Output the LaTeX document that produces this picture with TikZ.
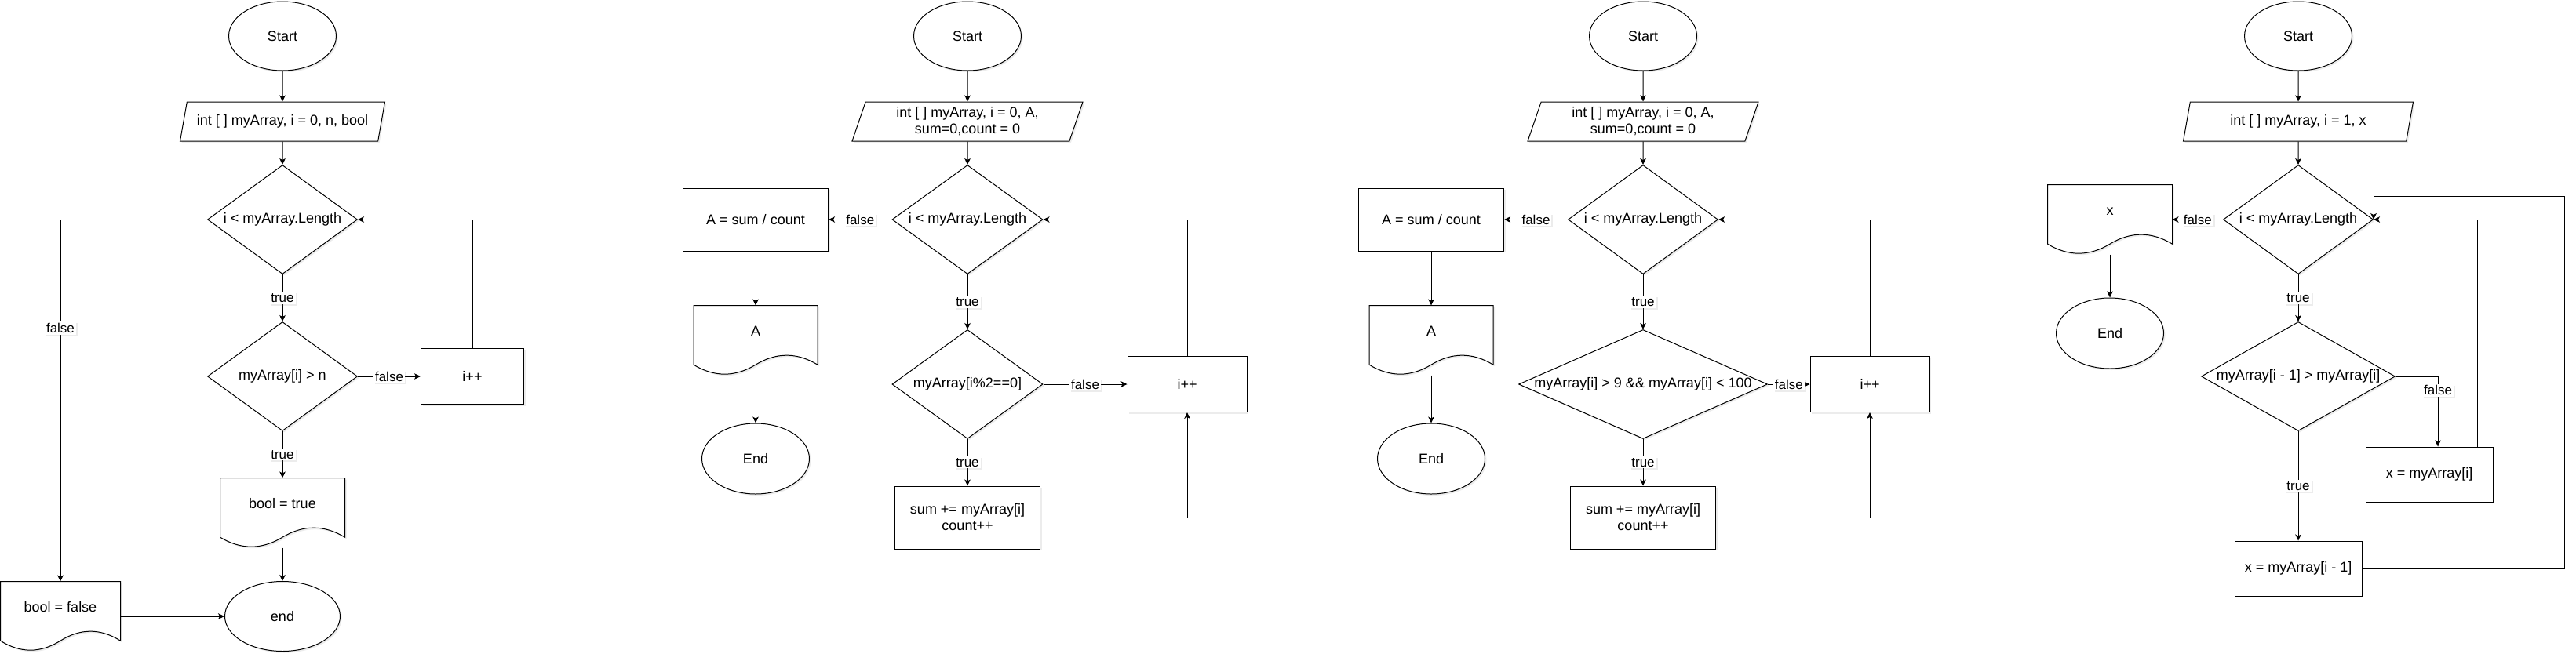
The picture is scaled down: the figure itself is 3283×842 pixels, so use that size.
\documentclass[tikz,border=0pt]{standalone}
\usepackage{fontspec}
\setmainfont{Liberation Sans}
\usetikzlibrary{shapes.geometric,arrows.meta,calc,shadows,backgrounds}

\newcommand{\docoutline}[1]{%
  \draw[docline] let \p1=(#1.north west), \p2=(#1.south east),
      \n1={\x2-\x1}, \n2={\y1-\y2} in
    (\x1,\y1) -- (\x2,\y1) -- (\x2,\y1-0.85*\n2)
    .. controls (\x1+0.8333*\n1,\y1-0.67*\n2) and (\x1+0.6667*\n1,\y1-0.67*\n2) .. (\x1+0.5*\n1,\y1-0.85*\n2)
    .. controls (\x1+0.3333*\n1,\y1-1.03*\n2) and (\x1+0.1667*\n1,\y1-1.03*\n2) .. (\x1,\y1-0.85*\n2)
    -- cycle;}

\begin{document}
\begin{tikzpicture}[x=0.5pt, y=-0.5pt, line width=0.5pt,
  font=\fontsize{9}{10.5}\selectfont,
  softshadow/.style={drop shadow={shadow xshift=1pt, shadow yshift=-1pt, opacity=0.15, fill=black!50}},
  terminal/.style={ellipse, draw, fill=white, softshadow, minimum width=68.5pt, minimum height=44pt},
  inputbox/.style={trapezium, trapezium left angle=67, trapezium right angle=113,
    trapezium stretches body=true, draw, fill=white, softshadow, inner ysep=1pt, align=center,
    minimum width=#1, minimum height=25pt},
  decision/.style={diamond, draw, fill=white, softshadow, inner sep=0pt, minimum width=#1, minimum height=69.5pt},
  process/.style={rectangle, draw, fill=white, softshadow, align=center, minimum width=#1, minimum height=40pt},
  docbox/.style={rectangle, minimum width=#1, minimum height=44pt, text height=6.5pt, text depth=12.5pt},
  docline/.style={draw=black, line width=0.5pt, fill=white, softshadow},
  flowarrow/.style={-{Stealth[length=4pt, width=3.8pt, inset=1pt]}},
  lbl/.style={fill=white, softshadow, inner sep=1pt, font=\fontsize{8.5}{10}\selectfont}]
  \useasboundingbox (0,0) rectangle (3283,842);
  \begin{scope}[on background layer]
    \fill[white] (0,0) rectangle (3283,842);
  \end{scope}

  \node[terminal] (s1) at (360,46) {Start};
  \node[inputbox=130.5pt] (in1) at (360,155) {int [ ] myArray, i = 0, n, bool};
  \node[decision=95.5pt, label=center:{i < myArray.Length}] (d1a) at (360,280) {};
  \node[decision=95.5pt, label=center:{myArray[i] > n}] (d1b) at (360,480) {};
  \node[process=65.5pt, minimum height=35.5pt] (inc1) at (602,480) {i++};
  \node[docbox=79pt] (bt1) at (360,654) {bool = true};
  \node[terminal, minimum width=73.5pt, minimum height=44.5pt] (end1) at (360,786) {end};
  \node[docbox=76pt] (bf1) at (77,786) {bool = false};

  \draw[flowarrow] (s1) -- (in1);
  \draw[flowarrow] (in1) -- (d1a);
  \draw[flowarrow] (d1a) -- node[lbl] {true} (d1b);
  \draw[flowarrow] (d1b) -- node[lbl] {false} (inc1);
  \draw[flowarrow] (inc1.north) |- (d1a.east);
  \draw[flowarrow] (d1a.west) -| node[lbl, pos=0.65] {false} (bf1.north);
  \draw[flowarrow] (d1b) -- node[lbl] {true} (bt1);
  \draw[flowarrow] (bt1) -- (end1);
  \draw[flowarrow] (bf1) -- (end1);

  \node[terminal] (s2) at (1233,46) {Start};
  \node[inputbox=147pt] (in2) at (1233,155) {int [ ] myArray, i = 0, A,\\ sum=0,count = 0};
  \node[decision=96pt, label=center:{i < myArray.Length}] (d2a) at (1233,280) {};
  \node[process=92.5pt] (as2) at (963,280) {A = sum / count};
  \node[docbox=78.5pt] (ad2) at (963,434) {A};
  \node[terminal, minimum height=45pt] (end2) at (963,585) {End};
  \node[decision=96pt, label=center:{myArray[i\%2==0]}] (d2b) at (1233,490) {};
  \node[process=76pt, minimum height=35.5pt] (inc2) at (1513,490) {i++};
  \node[process=92.5pt] (sum2) at (1233,660) {sum += myArray[i]\\ count++};

  \draw[flowarrow] (s2) -- (in2);
  \draw[flowarrow] (in2) -- (d2a);
  \draw[flowarrow] (d2a) -- node[lbl] {false} (as2);
  \draw[flowarrow] (as2) -- (ad2);
  \draw[flowarrow] (ad2) -- (end2);
  \draw[flowarrow] (d2a) -- node[lbl] {true} (d2b);
  \draw[flowarrow] (d2b) -- node[lbl] {false} (inc2);
  \draw[flowarrow] (d2b) -- node[lbl] {true} (sum2);
  \draw[flowarrow] (sum2.east) -| (inc2.south);
  \draw[flowarrow] (inc2.north) |- (d2a.east);

  \node[terminal] (s3) at (2094,46) {Start};
  \node[inputbox=147pt] (in3) at (2094,155) {int [ ] myArray, i = 0, A,\\ sum=0,count = 0};
  \node[decision=95.5pt, label=center:{i < myArray.Length}] (d3a) at (2094,280) {};
  \node[process=92.5pt] (as3) at (1824,280) {A = sum / count};
  \node[docbox=78.5pt] (ad3) at (1824,434) {A};
  \node[terminal, minimum height=45pt] (end3) at (1824,585) {End};
  \node[decision=158.5pt, label=center:{myArray[i] > 9 \&\& myArray[i] < 100}] (d3b) at (2094,490) {};
  \node[process=76pt, minimum height=35.5pt] (inc3) at (2383,490) {i++};
  \node[process=92.5pt] (sum3) at (2094,660) {sum += myArray[i]\\ count++};

  \draw[flowarrow] (s3) -- (in3);
  \draw[flowarrow] (in3) -- (d3a);
  \draw[flowarrow] (d3a) -- node[lbl] {false} (as3);
  \draw[flowarrow] (as3) -- (ad3);
  \draw[flowarrow] (ad3) -- (end3);
  \draw[flowarrow] (d3a) -- node[lbl] {true} (d3b);
  \draw[flowarrow] (d3b) -- node[lbl] {false} (inc3);
  \draw[flowarrow] (d3b) -- node[lbl] {true} (sum3);
  \draw[flowarrow] (sum3.east) -| (inc3.south);
  \draw[flowarrow] (inc3.north) |- (d3a.east);

  \node[terminal] (s4) at (2929,46) {Start};
  \node[inputbox=146.5pt] (in4) at (2929,155) {int [ ] myArray, i = 1, x};
  \node[decision=95.5pt, label=center:{i < myArray.Length}] (d4a) at (2929,280) {};
  \node[docbox=79pt] (xd4) at (2689,280) {x};
  \node[terminal, minimum height=45pt] (end4) at (2689,425) {End};
  \node[decision=123.5pt, label=center:{myArray[i - 1] > myArray[i]}] (d4b) at (2929,480) {};
  \node[process=81pt, minimum height=35pt] (xa4) at (3096,605) {x = myArray[i]};
  \node[process=81pt, minimum height=35pt] (xb4) at (2929,725) {x = myArray[i - 1]};
  \coordinate (back4) at (3268,250);

  \draw[flowarrow] (s4) -- (in4);
  \draw[flowarrow] (in4) -- (d4a);
  \draw[flowarrow] (d4a) -- node[lbl] {false} (xd4);
  \draw[flowarrow] (xd4) -- (end4);
  \draw[flowarrow] (d4a) -- node[lbl] {true} (d4b);
  \draw[flowarrow] (d4b.east) -| node[lbl, pos=0.6] {false} ([xshift=5.5pt]xa4.north);
  \draw[flowarrow] (d4b) -- node[lbl] {true} (xb4);
  \draw[flowarrow] ([xshift=30.5pt]xa4.north) |- (d4a.east);
  \draw[flowarrow] (xb4.east) -| (back4) -| (d4a.east);

  \begin{scope}[on background layer]
    \foreach \d in {bt1,bf1,ad2,ad3,xd4} {\docoutline{\d}}
  \end{scope}
\end{tikzpicture}
\end{document}
